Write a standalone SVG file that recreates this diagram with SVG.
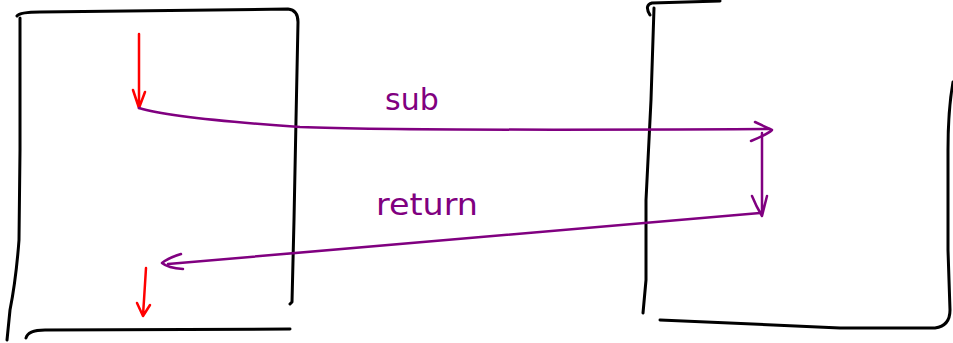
<svg xmlns="http://www.w3.org/2000/svg" width="953" height="343" viewBox="0 0 953 343">
<style>
.box{fill:none;stroke:#000;stroke-width:3;stroke-linecap:round;stroke-linejoin:round}
.red{fill:none;stroke:#ff0000;stroke-width:2.5;stroke-linecap:round;stroke-linejoin:round}
.pur{fill:none;stroke:#800080;stroke-width:2.5;stroke-linecap:round;stroke-linejoin:round}
.lbl{font-family:"DejaVu Sans",sans-serif;font-size:30px;fill:#800080}
</style>
<rect width="953" height="343" fill="#fff"/>
<g id="left-box">
<path class="box" d="M17,16 Q20,12 40,12 L288,9 Q298,10 298,22 L296,120 L294,220 L292,302 L290,304"/>
<path class="box" d="M20,18 L20,150 L19,240 Q16,280 10,310 L7,340"/>
<path class="box" d="M26,338 Q28,330 45,330 L290,329"/>
</g>
<g id="right-box">
<path class="box" d="M650,15 Q644,5 652,3 L720,1"/>
<path class="box" d="M654,8 L651,100 L646,200 L646,280 L643,313"/>
<path class="box" d="M953,82 Q948,110 948,150 L948,250 L950,310 Q950,326 935,328 L840,328 L660,320"/>
</g>
<g id="connectors">
<path class="red" d="M139,34 L139,108 M133,90 L139,108 L145,92"/>
<path class="red" d="M146,268 L144,300 L143,315 M137,303 L143,316 L150,305"/>
<path class="pur" d="M139,108 Q170,118 300,127 Q400,131 770,129"/>
<path class="pur" d="M755,122 L772,130 Q768,134 751,141"/>
<path class="pur" d="M762,133 L762,212 M752,196 Q756,206 762,216 L767,196"/>
<path class="pur" d="M760,213 L168,264"/>
<path class="pur" d="M181,254 Q168,258 162,263 Q168,268 183,269"/>
</g>
<text class="lbl" x="385" y="110">sub</text>
<text class="lbl" x="376" y="215" textLength="102" lengthAdjust="spacingAndGlyphs">return</text>
</svg>
